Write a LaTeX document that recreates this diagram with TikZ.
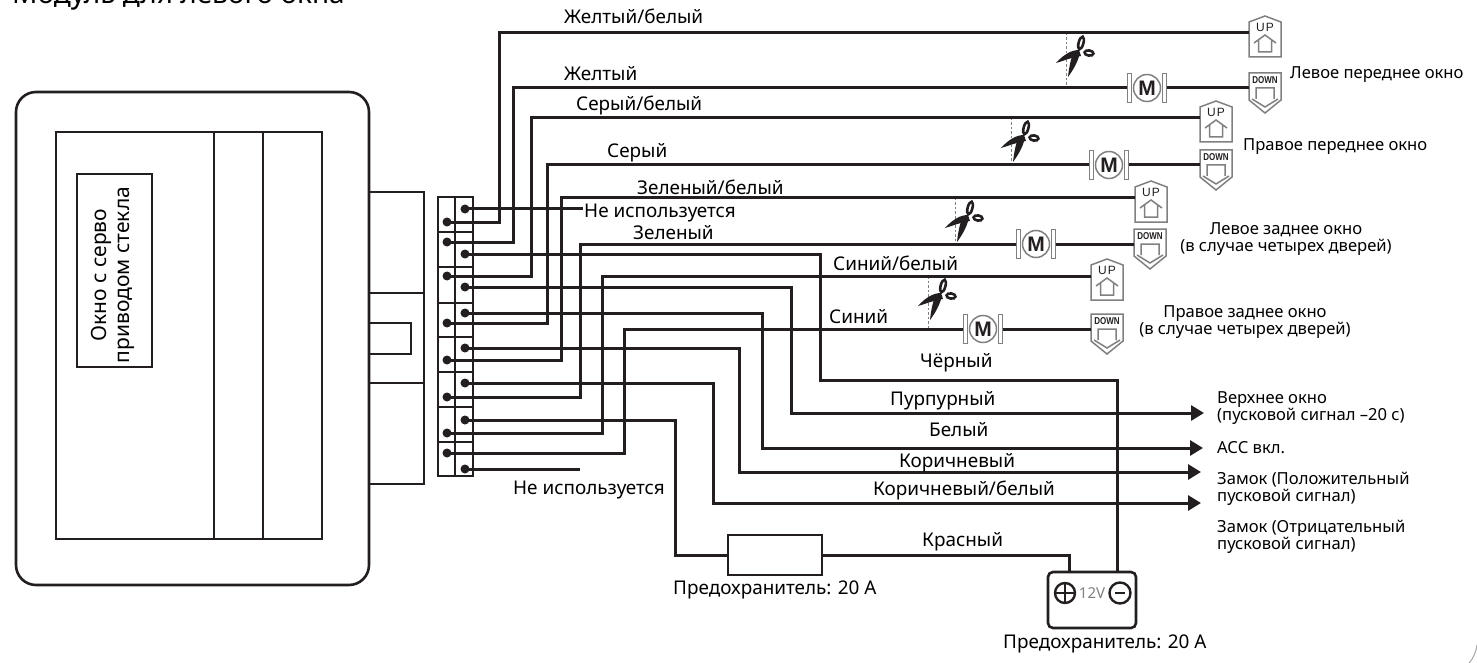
\documentclass[tikz,border=0pt]{standalone}
\usepackage{fontspec}
\setmainfont{Noto Sans}
\newfontfamily\symfont{Liberation Sans}
\usetikzlibrary{arrows.meta}
\definecolor{ink}{HTML}{231F20}
\definecolor{symgray}{HTML}{808080}
\tikzset{
  wire/.style={line width=3pt,draw=ink,line join=miter},
  outline/.style={line width=2.6pt,draw=ink},
  sym/.style={line width=1.5pt,draw=symgray},
  cut/.style={line width=1pt,draw=symgray,dash pattern=on 2.5pt off 2pt},
  pin/.style={circle,fill=ink,inner sep=0pt,minimum size=9pt},
  lab/.style={font=\fontsize{18.9}{18.9}\selectfont,text=black,inner sep=0pt,anchor=mid west,yshift=-4pt},
  note/.style={font=\fontsize{16.6}{16.6}\selectfont,text=black,inner sep=0pt,anchor=west,align=left},
  swnode/.style={inner sep=0pt,minimum width=32pt,minimum height=20pt},
  motornode/.style={inner sep=0pt,minimum width=39pt,minimum height=29pt},
  arr/.style={wire,-{Triangle[length=13pt,width=15pt]}},
}
\newcommand{\swup}[3]{%
  \node[swnode] (#1) at (#2,#3) {};
  \begin{scope}[shift={(#2,#3)}]
    \draw[sym,fill=white] (-16,-11)--(0,-17)--(16,-11)--(16,24)--(-16,24)--cycle;
    \draw[sym] (-11,10)--(0,2)--(11,10) (-6.5,7)--(-6.5,19)--(6.5,19)--(6.5,7);
    \node[inner sep=0pt,text=ink,font=\symfont\fontsize{12}{12}\selectfont] at (0,-5.5) {U\kern1pt P};
  \end{scope}}
\newcommand{\swdown}[3]{%
  \node[swnode] (#1) at (#2,#3) {};
  \begin{scope}[shift={(#2,#3)}]
    \draw[sym,fill=white] (-16,-15)--(16,-15)--(16,12)--(0,25)--(-16,12)--cycle;
    \draw[sym] (-13,11)--(0,19)--(13,11) (-9,11)--(-9,0)--(9,0)--(9,11);
    \node[inner sep=0pt,text=ink,xscale=.8,font=\symfont\fontsize{10}{10}\bfseries\selectfont] at (0,-7.5) {DOWN};
  \end{scope}}
\newcommand{\motorsym}[3]{%
  \node[motornode] (#1) at (#2,#3) {};
  \begin{scope}[shift={(#2,#3)}]
    \draw[sym,fill=white] (-19.5,-14.5) rectangle (-15.5,14.5);
    \draw[sym,fill=white] (15.5,-14.5) rectangle (19.5,14.5);
    \draw[sym,fill=white] (0,0) circle (13.5);
    \node[inner sep=0pt,text=ink,font=\symfont\fontsize{21}{21}\bfseries\selectfont] at (0,0) {M};
  \end{scope}}
\newcommand{\snip}[3]{% x, top wire y, bottom wire y
  \draw[cut] (#1,#2) -- (#1,#3);
  \begin{scope}[shift={(#1,#2)}]
    \fill[ink] (-10,30) .. controls (-2,21) and (6,17) .. (13,17) -- (15,23) .. controls (7,24) and (0,27) .. cycle;
    \fill[ink] (2,44) .. controls (3,34) and (5,25) .. (8,18) -- (14,20) .. controls (12,28) and (8,36) .. cycle;
    \draw[ink,line width=2.6pt,rotate around={-8:(23,20)}] (23,20) ellipse (4.5 and 2.6);
    \draw[ink,line width=2.6pt,rotate around={75:(15,10)}] (15,10) ellipse (6.5 and 2.4);
  \end{scope}}
\begin{document}
\begin{tikzpicture}[x=1pt,y=-1pt]
\useasboundingbox (0,0) rectangle (1477,663);
% title
\node[font=\fontsize{28}{28}\selectfont,inner sep=0pt,anchor=base west] (title) at (12,4) {Модуль для левого окна};
% main unit
\draw[outline,rounded corners=20pt] (16,92) rectangle (369,585);
\draw[outline] (56,132) rectangle (322,539);
\draw[outline] (214,132) -- (214,539) (263,132) -- (263,539);
\node[outline,draw,minimum width=75pt,minimum height=193pt,inner sep=0pt] (win) at (114.5,270.5) {};
\node[rotate=90,font=\fontsize{21}{23.5}\selectfont,align=center,inner sep=0pt] (wintext) at (113,275) {Окно с серво\\приводом стекла};
% plug
\draw[outline] (369,192) -- (424,192) -- (424,484) -- (369,484);
\draw[outline] (369,293) -- (424,293) (369,383) -- (424,383);
\draw[outline] (369,323) -- (411,323) -- (411,354) -- (369,354);
% terminal block
\draw[outline] (438,197) rectangle (473,476);
\draw[outline] (455,197) -- (455,476);
\foreach \y in {232,267,303,337,372,407,442} \draw[outline] (438,\y) -- (473,\y);
% pins
\foreach \n/\y in {1/222,2/242,3/276,4/323,5/360,6/397,7/433,8/453}
  \node[pin] (l\n) at (447,\y) {};
\foreach \n/\y in {1/209,2/254,3/287,4/313,5/348,6/383,7/420,8/469}
  \node[pin] (r\n) at (465,\y) {};
% switches
\swup{u1}{1265}{33}\swdown{d1}{1265}{88}
\swup{u2}{1216}{118}\swdown{d2}{1216}{165}
\swup{u3}{1151}{198}\swdown{d3}{1150}{244}
\swup{u4}{1107}{276}\swdown{d4}{1107}{329}
% motors
\motorsym{m1}{1147}{88}\motorsym{m2}{1109}{165}
\motorsym{m3}{1036}{244}\motorsym{m4}{983}{329}
% scissors
\snip{1066}{33}{88}\snip{1011}{118}{165}\snip{955}{198}{244}\snip{928}{276}{329}
% fuse and battery
\node[outline,draw,fill=white,minimum width=94pt,minimum height=40pt,inner sep=0pt] (fuse) at (775,555) {};
\node[outline,draw,rounded corners=5pt,minimum width=88pt,minimum height=56pt,inner sep=0pt] (batt) at (1092,600) {};
\node[draw=ink,line width=2.4pt,circle,minimum size=20pt,inner sep=0pt] (plus) at (1065,593) {};
\draw[ink,line width=2.4pt] (plus.west) -- (plus.east) (plus.north) -- (plus.south);
\node[draw=ink,line width=2.4pt,circle,minimum size=21pt,inner sep=0pt] (minus) at (1120,593) {};
\draw[ink,line width=2.4pt] (1115,593) -- (1125,593);
\node[text=symgray,inner sep=0pt,font=\fontsize{15}{15}\selectfont] (v12) at (1092,593) {12V};
% free ends
\coordinate (nc) at (583,209);
\coordinate (nc2) at (580,469);
\coordinate (a1) at (1204,413);
\coordinate (a2) at (1203,448);
\coordinate (a3) at (1201,472);
\coordinate (a4) at (1201,503);
% wires
\draw[wire] (l1.center) -| (499,33) -- (u1.west);
\draw[wire] (l2.center) -| (513,88) -- (m1.west);
\draw[wire] (m1.east) -- (d1.west);
\draw[wire] (l3.center) -| (531,118) -- (u2.west);
\draw[wire] (l4.center) -| (547,165) -- (m2.west);
\draw[wire] (m2.east) -- (d2.west);
\draw[wire] (l5.center) -| (561,198) -- (u3.west);
\draw[wire] (l6.center) -| (580,244) -- (m3.west);
\draw[wire] (m3.east) -- (d3.west);
\draw[wire] (l7.center) -| (602,276) -- (u4.west);
\draw[wire] (l8.center) -| (624,329) -- (m4.west);
\draw[wire] (m4.east) -- (d4.west);
\draw[wire] (r1.center) -- (nc);
\draw[wire] (r8.center) -- (nc2);
\draw[wire] (r2.center) -| (820,380) -- (1117,380) -- (batt.north -| 1117,0);
\draw[arr] (r3.center) -| (791,413) -- (a1);
\draw[arr] (r4.center) -| (762,448) -- (a2);
\draw[arr] (r5.center) -| (739,472) -- (a3);
\draw[arr] (r6.center) -| (713,503) -- (a4);
\draw[wire] (r7.center) -| (675,555) -- (fuse.west);
\draw[wire] (fuse.east) -| (batt.north -| 1069,0);
% wire labels
\node[lab] (t1) at (564,17) {Желтый/белый};
\node[lab] (t2) at (564,74) {Желтый};
\node[lab] (t3) at (576,104) {Серый/белый};
\node[lab] (t4) at (607,151) {Серый};
\node[lab] (t5) at (637,188) {Зеленый/белый};
\node[lab] (t6) at (584,211) {Не используется};
\node[lab] (t7) at (633,233) {Зеленый};
\node[lab] (t8) at (833,264) {Синий/белый};
\node[lab] (t9) at (829,317) {Синий};
\node[lab] (t10) at (920,361) {Чёрный};
\node[lab] (t11) at (890,399) {Пурпурный};
\node[lab] (t12) at (929,430) {Белый};
\node[lab] (t13) at (899,461) {Коричневый};
\node[lab] (t14) at (873,489) {Коричневый/белый};
\node[lab] (t15) at (513,488) {Не используется};
\node[lab] (t16) at (922,540) {Красный};
\node[lab] (t17) at (673,588) {Предохранитель: 20 А};
\node[lab] (t18) at (1003,642) {Предохранитель: 20 А};
% notes
\node[note] (n1) at (1290,75) {Левое переднее окно};
\node[note] (n2) at (1243,147) {Правое переднее окно};
\node[note,align=center,anchor=center] (n3) at (1286,239) {Левое заднее окно\\(в случае четырех дверей)};
\node[note,align=center,anchor=center] (n4) at (1245,322) {Правое заднее окно\\(в случае четырех дверей)};
\node[note] (n5) at (1217,408) {Верхнее окно\\(пусковой сигнал –20 с)};
\node[note] (n6) at (1217,448) {АСС вкл.};
\node[note] (n7) at (1217,489) {Замок (Положительный\\пусковой сигнал)};
\node[note] (n8) at (1217,537) {Замок (Отрицательный\\пусковой сигнал)};
% rounded corner of the scan
\draw[black!35,line width=1pt] (1477,645) .. controls (1476,652) and (1473,659) .. (1469,663);
\end{tikzpicture}
\end{document}
